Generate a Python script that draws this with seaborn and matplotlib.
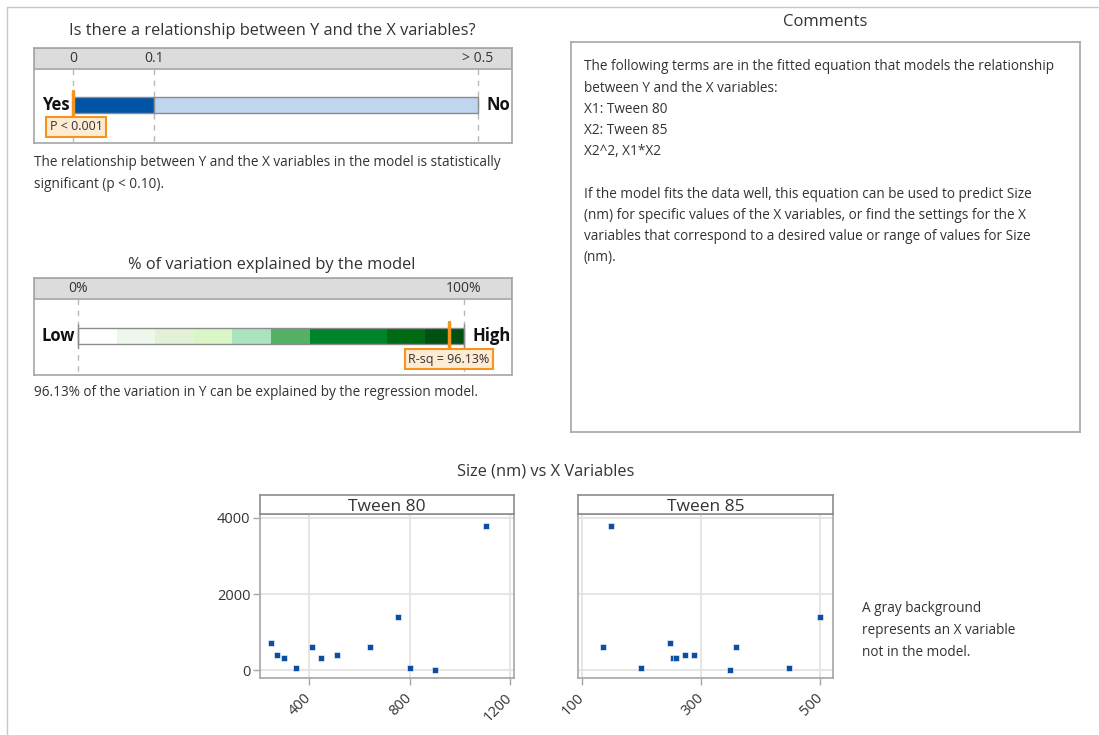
import pandas as pd
import matplotlib.pyplot as plt
import seaborn as sns
from matplotlib.patches import Rectangle

W, H = 1099, 735

# ── data ───────────────────────────────────────────────────────────────────────
p_ticks = [0, 0.1, 0.5]
p_tick_labels = ["0", "0.1", "> 0.5"]
p_marker = 0.0
p_label = "P < 0.001"

rsq_bounds = [0, 10, 20, 30, 40, 50, 60, 80, 90, 100]
rsq_colors = ["#ffffff", "#eef7ec", "#e3f1d8", "#daf6c6", "#a9e4bf",
              "#55b163", "#00852b", "#006b14", "#004f13"]
rsq_ticks = [0, 100]
rsq_tick_labels = ["0%", "100%"]
rsq = 96.13

tween80 = [246, 271, 300, 347, 411, 447, 511, 640, 752, 800, 900, 1104]
tween85 = [248, 272, 253, 199, 135, 258, 287, 359, 499, 447, 348, 149]
size_nm = [700, 395, 315, 45, 613, 315, 395, 613, 1386, 45, 0, 3789]

comment_lines = [
    "The following terms are in the fitted equation that models the relationship",
    "between Y and the X variables:",
    "X1: Tween 80",
    "X2: Tween 85",
    "X2^2, X1*X2",
    "",
    "If the model fits the data well, this equation can be used to predict Size",
    "(nm) for specific values of the X variables, or find the settings for the X",
    "variables that correspond to a desired value or range of values for Size",
    "(nm).",
]

# ── style ──────────────────────────────────────────────────────────────────────
sns.set_theme(style="white")
plt.rcParams["font.family"] = ["Open Sans", "DejaVu Sans"]
TXT = "#333333"
EDGE = "#a6a6a6"
ORANGE = "#f7941d"
BLUE = "#0b4fa3"
BODY = 9.8
TITLE = 11.8

fig = plt.figure(figsize=(W / 100, H / 100), dpi=100)


def px_ax(x0, y0, x1, y1):
    return fig.add_axes([x0 / W, 1 - y1 / H, (x1 - x0) / W, (y1 - y0) / H])


def ftext(x, y, s, **kw):
    kw.setdefault("color", TXT)
    kw.setdefault("va", "center")
    return fig.text(x / W, 1 - y / H, s, **kw)


# outer frame
fig.add_artist(plt.Line2D([7 / W, 7 / W], [0, 1 - 7 / H], color="#c8c8c8", lw=1))
fig.add_artist(plt.Line2D([7 / W, 1], [1 - 7 / H, 1 - 7 / H], color="#c8c8c8", lw=1))


def gauge_frame(box, zero_px, px_per_unit, header_bottom):
    x0, y0, x1, y1 = box
    ax = px_ax(*box)
    ax.set_xlim((x0 - zero_px) / px_per_unit, (x1 - zero_px) / px_per_unit)
    ax.set_ylim(y1, y0)
    ax.set_xticks([])
    ax.set_yticks([])
    for sp in ax.spines.values():
        sp.set_color(EDGE)
        sp.set_linewidth(1.2)
    xl = ax.get_xlim()
    ax.add_patch(Rectangle((xl[0], y0), xl[1] - xl[0], header_bottom - y0,
                           facecolor="#dcdcdc", edgecolor=EDGE, lw=1.2, zorder=1))
    return ax


# ── p-value gauge ──────────────────────────────────────────────────────────────
ftext(272, 31, "Is there a relationship between Y and the X variables?",
      ha="center", fontsize=TITLE)
ax1 = gauge_frame((34, 48, 512, 143), 73, 810, 69)
ax1.vlines(p_ticks, 69, 143, colors="#b8b8b8", linestyles=(0, (4, 4)), lw=1, zorder=0)
for t, lab in zip(p_ticks, p_tick_labels):
    ax1.text(t, 59, lab, ha="center", va="center", fontsize=10, color=TXT)
ax1.barh(105, [p_ticks[1] - p_ticks[0], p_ticks[2] - p_ticks[1]], left=p_ticks[:2],
         height=16, color=["#0054a6", "#c0d5ee"], edgecolor="#8c8c8c", lw=1, zorder=2)
ax1.plot([p_marker, p_marker], [91, 118], color=ORANGE, lw=2.5, zorder=4)
ftext(70, 105, "Yes", ha="right", fontsize=12, fontweight="bold", color="#111111")
ftext(486, 105, "No", ha="left", fontsize=12, fontweight="bold", color="#111111")
ftext(76, 127, p_label, ha="center", fontsize=9,
      bbox=dict(boxstyle="square,pad=0.3", fc="#fdebd3", ec=ORANGE, lw=1.5))
ftext(34, 162, "The relationship between Y and the X variables in the model is statistically",
      ha="left", fontsize=BODY)
ftext(34, 185, "significant (p < 0.10).", ha="left", fontsize=BODY)

# ── R-sq gauge ─────────────────────────────────────────────────────────────────
ftext(272, 265, "% of variation explained by the model", ha="center", fontsize=TITLE)
ax2 = gauge_frame((34, 278, 512, 375), 78, 3.86, 299)
ax2.vlines(rsq_ticks, 299, 375, colors="#b8b8b8", linestyles=(0, (4, 4)), lw=1, zorder=0)
for t, lab in zip(rsq_ticks, rsq_tick_labels):
    ax2.text(t, 289, lab, ha="center", va="center", fontsize=10, color=TXT)
widths = [b - a for a, b in zip(rsq_bounds[:-1], rsq_bounds[1:])]
ax2.barh(336, widths, left=rsq_bounds[:-1], height=16, color=rsq_colors, lw=0, zorder=2)
ax2.add_patch(Rectangle((rsq_bounds[0], 328), rsq_bounds[-1] - rsq_bounds[0], 16,
                        fill=False, edgecolor="#8c8c8c", lw=1, zorder=3))
ax2.vlines([rsq_bounds[0], rsq_bounds[-1]], 324, 348, colors="#8c8c8c", lw=1, zorder=3)
ax2.plot([rsq, rsq], [322, 350], color=ORANGE, lw=2.5, zorder=4)
ax2.text(rsq, 359, f"R-sq = {rsq:.2f}%", ha="center", va="center", fontsize=9,
         color=TXT, zorder=5,
         bbox=dict(boxstyle="square,pad=0.3", fc="#fdebd3", ec=ORANGE, lw=1.5))
ftext(75, 336, "Low", ha="right", fontsize=12, fontweight="bold", color="#111111")
ftext(472, 336, "High", ha="left", fontsize=12, fontweight="bold", color="#111111")
ftext(34, 392, "96.13% of the variation in Y can be explained by the regression model.",
      ha="left", fontsize=BODY)

# ── comments ───────────────────────────────────────────────────────────────────
ftext(825, 22, "Comments", ha="center", fontsize=12)
axc = px_ax(571, 42, 1080, 432)
axc.set_xticks([])
axc.set_yticks([])
for sp in axc.spines.values():
    sp.set_color(EDGE)
    sp.set_linewidth(1.2)
for i, line in enumerate(comment_lines):
    ftext(584, 67 + i * 21.2, line, ha="left", fontsize=BODY)

# ── scatter panels ─────────────────────────────────────────────────────────────
df = pd.DataFrame({"Tween 80": tween80, "Tween 85": tween85, "Size (nm)": size_nm})
ftext(546, 472, "Size (nm) vs X Variables", ha="center", fontsize=TITLE)

panels = [
    ("Tween 80", (260, 514, 514, 678), (203, 1216), [400, 800, 1200]),
    ("Tween 85", (578, 514, 833, 678), (93, 521), [100, 300, 500]),
]
for i, (col, box, xlim, xt) in enumerate(panels):
    x0, y0, x1, y1 = box
    ax = px_ax(*box)
    sns.scatterplot(data=df, x=col, y="Size (nm)", ax=ax, marker="s", s=16,
                    color=BLUE, edgecolor="white", linewidth=0.4, zorder=3)
    ax.set_xlim(*xlim)
    ax.set_ylim(-210, 4105)
    ax.set_xticks(xt)
    ax.set_yticks([0, 2000, 4000])
    ax.grid(True, color="#e4e4e4", lw=1.3)
    ax.set_axisbelow(True)
    ax.set_xlabel("")
    ax.set_ylabel("")
    for sp in ax.spines.values():
        sp.set_color(EDGE)
        sp.set_linewidth(1.2)
    ax.tick_params(axis="x", bottom=True, length=5, width=1, color=EDGE,
                   labelsize=10.5, labelcolor=TXT, pad=8)
    for lab in ax.get_xticklabels():
        lab.set_rotation(45)
        lab.set_rotation_mode("anchor")
        lab.set_ha("right")
        lab.set_va("center")
    if i == 0:
        ax.tick_params(axis="y", left=True, length=5, width=1, color=EDGE,
                       labelsize=10.5, labelcolor=TXT, pad=2)
    else:
        ax.tick_params(axis="y", left=False, labelleft=False)

    strip = px_ax(x0, 495, x1, y0)
    strip.set_xticks([])
    strip.set_yticks([])
    strip.set_facecolor("white")
    for sp in strip.spines.values():
        sp.set_color("#8c8c8c")
        sp.set_linewidth(1.2)
    strip.text(0.5, 0.38, col, ha="center", va="center", fontsize=12.5,
               color=TXT, transform=strip.transAxes)

for j, line in enumerate(["A gray background", "represents an X variable",
                          "not in the model."]):
    ftext(862, 609 + j * 21.5, line, ha="left", fontsize=BODY)

fig.savefig("out.png", dpi=100, facecolor="white")
